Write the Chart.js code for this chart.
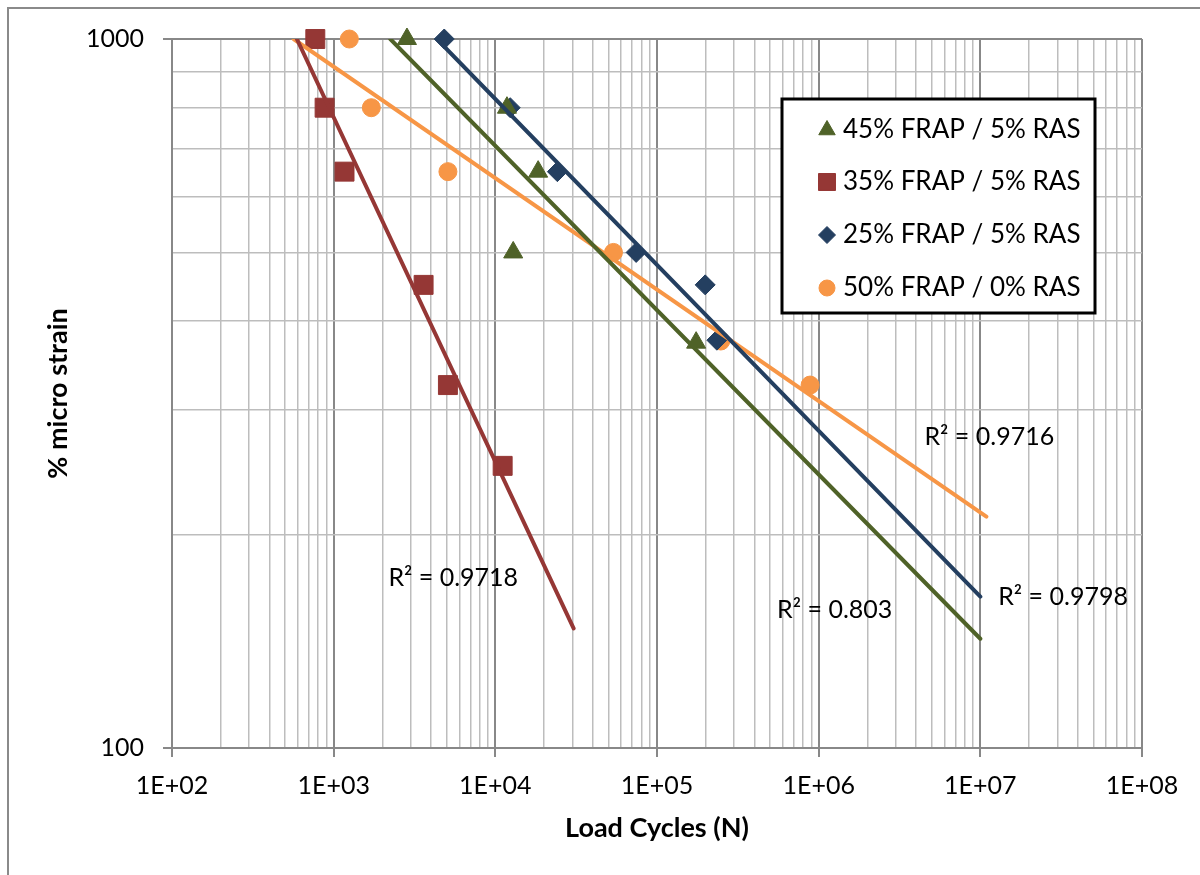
<!DOCTYPE html>
<html>
<head>
<meta charset="utf-8">
<title>Load Cycles vs micro strain</title>
<script src="https://cdn.jsdelivr.net/npm/chart.js@4.4.1/dist/chart.umd.min.js"></script>
<style>
  html, body { margin: 0; padding: 0; background: #fff; }
  #wrap { width: 1200px; height: 875px; }
</style>
</head>
<body>
<div id="wrap"><canvas id="fatigueChart" width="1200" height="875"></canvas></div>
<script>
const frap45Cycles = [2840, 11800, 18400, 12900, 174600];
const frap45Strain = [1000, 800, 650, 500, 373];
const frap35Cycles = [770, 879, 1167, 3600, 5090, 11100];
const frap35Strain = [1000, 800, 650, 450, 325, 250];
const frap25Cycles = [4830, 12360, 24200, 74300, 198600, 234600];
const frap25Strain = [1000, 800, 650, 500, 450, 376];
const frap50Cycles = [1250, 1710, 5090, 53800, 248000, 885000];
const frap50Strain = [1000, 800, 650, 500, 375, 325];

// power trendlines (start / end of each drawn line)
const trend45Cycles = [2240, 1.0e7];
const trend45Strain = [1000, 142.6];
const trend35Cycles = [592, 30500];
const trend35Strain = [1000, 147.5];
const trend25Cycles = [4350, 1.0e7];
const trend25Strain = [1000, 163.5];
const trend50Cycles = [565, 1.09e7];
const trend50Strain = [1000, 212];

const seriesNames = ['45% FRAP / 5% RAS', '35% FRAP / 5% RAS', '25% FRAP / 5% RAS', '50% FRAP / 0% RAS'];
const r2Texts = ['R\u00B2 = 0.803', 'R\u00B2 = 0.9718', 'R\u00B2 = 0.9798', 'R\u00B2 = 0.9716'];

// axis ticks
const xDecades = [1e2, 1e3, 1e4, 1e5, 1e6, 1e7, 1e8];
const xTickLabels = ['1E+02', '1E+03', '1E+04', '1E+05', '1E+06', '1E+07', '1E+08'];
const minorSteps = [1, 2, 3, 4, 5, 6, 7, 8, 9];
const yTickValues = [100, 200, 300, 400, 500, 600, 700, 800, 900, 1000];
const yTickLabels = ['100', '1000'];

const FONT = 'Lato, "Liberation Sans", sans-serif';
const GREEN = '#4F6228';
const RED = '#953735';
const BLUE = '#243F60';
const ORANGE = '#F79646';
const MAJOR_GRID = '#888888';
const MINOR_GRID = '#bdbdbd';

const xTickValues = [];
xDecades.slice(0, -1).forEach(d => minorSteps.forEach(m => xTickValues.push(m * d)));
xTickValues.push(xDecades[xDecades.length - 1]);

const toPoints = (xs, ys) => xs.map((x, i) => ({ x: x, y: ys[i] }));
const isDecade = v => xDecades.includes(v);
const isYMajor = v => v === 100 || v === 1000;

function markerSet(label, xs, ys, color, style, radius) {
    return {
        label: label,
        data: toPoints(xs, ys),
        showLine: false,
        clip: false,
        pointStyle: style,
        pointRadius: radius,
        pointHoverRadius: radius,
        backgroundColor: color,
        borderColor: color,
        pointBorderWidth: 1,
        order: 2,
    };
}

function trendSet(xs, ys, color) {
    return {
        type: 'line',
        label: 'trend',
        data: toPoints(xs, ys),
        showLine: true,
        fill: false,
        borderColor: color,
        backgroundColor: color,
        borderWidth: 4,
        borderCapStyle: 'round',
        tension: 0,
        pointRadius: 0,
        pointHoverRadius: 0,
        order: 1,
    };
}

const chartBackground = {
    id: 'chartBackground',
    beforeDraw(chart) {
        const ctx = chart.ctx;
        ctx.save();
        ctx.fillStyle = '#fff';
        ctx.fillRect(0, 0, chart.width, chart.height);
        ctx.strokeStyle = '#8a8a8a';
        ctx.lineWidth = 2;
        ctx.beginPath();
        ctx.moveTo(8, chart.height);
        ctx.lineTo(8, 8);
        ctx.lineTo(chart.width, 8);
        ctx.stroke();
        ctx.restore();
    },
};

const r2Labels = {
    id: 'r2Labels',
    afterDatasetsDraw(chart, args, opts) {
        const ctx = chart.ctx;
        const xs = chart.scales.x, ys = chart.scales.y;
        ctx.save();
        ctx.font = opts.size + 'px ' + FONT;
        ctx.fillStyle = '#000';
        ctx.textBaseline = 'middle';
        ctx.textAlign = 'left';
        opts.at.forEach((p, i) => {
            ctx.fillText(r2Texts[i], xs.getPixelForValue(p[0]), ys.getPixelForValue(p[1]));
        });
        ctx.restore();
    },
};

const boxLegend = {
    id: 'boxLegend',
    afterDraw(chart, args, opts) {
        const ctx = chart.ctx;
        const b = opts.box;
        ctx.save();
        ctx.fillStyle = '#fff';
        ctx.fillRect(b[0], b[1], b[2] - b[0], b[3] - b[1]);
        ctx.strokeStyle = '#000';
        ctx.lineWidth = 3;
        ctx.strokeRect(b[0], b[1], b[2] - b[0], b[3] - b[1]);
        ctx.font = opts.size + 'px ' + FONT;
        ctx.textBaseline = 'middle';
        ctx.textAlign = 'left';
        for (let i = 0; i < seriesNames.length; i++) {
            const ds = chart.data.datasets[i];
            const y = opts.rows[i];
            ctx.fillStyle = ds.backgroundColor;
            ctx.strokeStyle = ds.borderColor;
            ctx.lineWidth = 1;
            Chart.helpers.drawPoint(ctx, {
                pointStyle: ds.pointStyle,
                radius: opts.radius[i],
                rotation: 0,
                borderWidth: 1,
            }, opts.markerX, y);
            ctx.fillStyle = '#000';
            ctx.fillText(seriesNames[i], opts.textX, y);
        }
        ctx.restore();
    },
};

new Chart(document.getElementById('fatigueChart').getContext('2d'), {
    type: 'scatter',
    data: {
        datasets: [
            markerSet(seriesNames[0], frap45Cycles, frap45Strain, GREEN, 'triangle', 11),
            markerSet(seriesNames[1], frap35Cycles, frap35Strain, RED, 'rect', 13.4),
            markerSet(seriesNames[2], frap25Cycles, frap25Strain, BLUE, 'rectRot', 10),
            markerSet(seriesNames[3], frap50Cycles, frap50Strain, ORANGE, 'circle', 9),
            trendSet(trend45Cycles, trend45Strain, GREEN),
            trendSet(trend35Cycles, trend35Strain, RED),
            trendSet(trend25Cycles, trend25Strain, BLUE),
            trendSet(trend50Cycles, trend50Strain, ORANGE),
        ],
    },
    options: {
        responsive: false,
        animation: false,
        layout: { padding: { left: 0, top: 39, right: 58, bottom: 0 } },
        plugins: {
            legend: { display: false },
            tooltip: { enabled: false },
            r2Labels: {
                size: 25,
                at: [[553000, 156.6], [2180, 173.8], [1.29e7, 163.5], [4.51e6, 275]],
            },
            boxLegend: {
                box: [782, 99, 1095, 313],
                rows: [130, 182, 235, 288],
                markerX: 827,
                textX: 843,
                size: 26,
                radius: [9.5, 12, 8.5, 8],
            },
        },
        scales: {
            x: {
                type: 'logarithmic',
                position: 'bottom',
                min: 100,
                max: 1e8,
                afterBuildTicks: s => { s.ticks = xTickValues.map(v => ({ value: v, major: isDecade(v) })); },
                afterFit: s => { s.height = 127; },
                ticks: {
                    autoSkip: false,
                    maxRotation: 0,
                    minRotation: 0,
                    padding: 14,
                    color: '#000',
                    font: { family: FONT, size: 25 },
                    callback: v => { const i = xDecades.indexOf(v); return i >= 0 ? xTickLabels[i] : ''; },
                },
                grid: {
                    color: c => isDecade(c.tick.value) ? MAJOR_GRID : MINOR_GRID,
                    lineWidth: c => isDecade(c.tick.value) ? 2 : 1.5,
                    tickLength: 9,
                    tickColor: c => isDecade(c.tick.value) ? MAJOR_GRID : 'rgba(0,0,0,0)',
                    tickWidth: 2,
                },
                border: { color: MAJOR_GRID, width: 2 },
                title: {
                    display: true,
                    text: 'Load Cycles (N)',
                    color: '#000',
                    font: { family: FONT, size: 27, weight: 'bold' },
                    padding: { top: 0, bottom: 31 },
                },
            },
            y: {
                type: 'logarithmic',
                position: 'left',
                min: 100,
                max: 1000,
                afterBuildTicks: s => { s.ticks = yTickValues.map(v => ({ value: v, major: isYMajor(v) })); },
                afterFit: s => { s.width = 172; },
                ticks: {
                    autoSkip: false,
                    padding: 19,
                    color: '#000',
                    font: { family: FONT, size: 25 },
                    callback: v => yTickLabels.includes(String(v)) ? String(v) : '',
                },
                grid: {
                    color: c => isYMajor(c.tick.value) ? MAJOR_GRID : MINOR_GRID,
                    lineWidth: c => isYMajor(c.tick.value) ? 2 : 1.5,
                    tickLength: 9,
                    tickColor: c => isYMajor(c.tick.value) ? MAJOR_GRID : 'rgba(0,0,0,0)',
                    tickWidth: 2,
                },
                border: { color: MAJOR_GRID, width: 2 },
                title: {
                    display: true,
                    text: '% micro strain',
                    color: '#000',
                    font: { family: FONT, size: 27, weight: 'bold' },
                    padding: { top: 42, bottom: 0 },
                },
            },
        },
    },
    plugins: [chartBackground, r2Labels, boxLegend],
});
</script>
</body>
</html>
